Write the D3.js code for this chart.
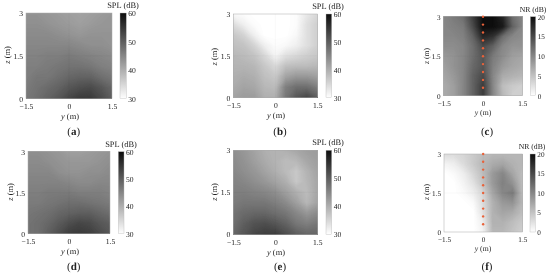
<!DOCTYPE html>
<html>
<head>
<meta charset="utf-8">
<style>
    html, body { margin: 0; padding: 0; background: #fff; }
    svg { display: block; }
    text { font-family: "Liberation Serif", serif; fill: #222; text-rendering: geometricPrecision; filter: grayscale(1); }
    .axis .domain { display: none; }
</style>
<script src="https://cdnjs.cloudflare.com/ajax/libs/d3/7.8.5/d3.min.js"></script>
</head>
<body>
<script>
    // axes
    var yTicks = [-1.5, 0, 1.5];
    var zTicks = [0, 1.5, 3];
    var splTicks = [30, 40, 50, 60];
    var nrTicks = [0, 5, 10, 15, 20];
    // measurement points drawn on panels c and f
    var pointZ = [0.3, 0.6, 0.9, 1.2, 1.5, 1.8, 2.1, 2.4, 2.7, 3];

    // rows run from z = 3 down to z = 0, columns from y = -1.5 to y = 1.5
    var gridA = [
        [43.5, 43.5, 43, 42.5, 42, 41.5, 42, 42.5, 43],
        [44, 44, 43.5, 43, 42.5, 42, 42.5, 43, 43],
        [44.5, 44.5, 44.5, 44, 43.5, 43, 43.5, 43.5, 43.5],
        [45, 45, 45, 45, 45, 44.5, 44, 44, 43.5],
        [45.5, 45.5, 46, 46, 46.5, 46, 45.5, 45, 44.5],
        [46, 46, 46.5, 47, 47.5, 47.5, 47, 46, 45.5],
        [46, 47, 47, 48, 49, 49.5, 49.5, 48, 47],
        [46.5, 47.5, 48.5, 49.5, 51, 52, 52.5, 51, 49],
        [47, 48, 49.5, 51, 53, 54.5, 54.5, 52.5, 50]
    ];
    var gridB = [
        [31, 30.5, 30, 30, 30, 30, 30.5, 33, 35],
        [34.5, 32, 30.5, 30, 30, 30, 30.5, 34, 36],
        [37, 35.5, 32, 30, 30, 30, 31, 34, 36],
        [38, 37.5, 35.5, 32, 30.5, 31, 32, 34, 36],
        [39, 38.5, 37.5, 35, 31.5, 34, 35, 36, 37],
        [39.5, 39.5, 39, 37, 35, 38, 38.5, 38.5, 39],
        [40, 40.5, 40, 38, 37, 41.5, 43, 43, 42],
        [40.5, 41.5, 41, 39, 38.5, 46, 48, 48, 46],
        [41.5, 42.5, 42.5, 40, 40, 47, 51, 53, 50]
    ];
    var gridC = [
        [10, 11, 12, 16, 20, 20, 18, 12, 10],
        [10, 10.5, 11, 15, 20, 20, 19, 13, 10],
        [10, 10, 10.5, 13, 18, 17, 12, 10, 9.5],
        [9.5, 9.5, 10, 12, 15, 13, 10, 9, 9],
        [8.5, 9, 10, 12, 14, 11, 9.5, 8, 7.5],
        [8, 9, 10, 12.5, 14, 10.5, 8.5, 7.5, 7],
        [7.5, 8.5, 10, 13, 15, 10, 7, 6.5, 6],
        [7, 8, 10, 13, 16, 10, 5.5, 4.5, 4],
        [7, 8, 10, 13, 16, 10, 6, 4, 4]
    ];
    var gridD = [
        [44, 44, 43.5, 43, 42, 42, 42.5, 43, 43.5],
        [44.5, 44.5, 44, 43.5, 43, 43, 43, 43.5, 44],
        [45, 45, 45, 44, 43.5, 43.5, 44, 44, 44.5],
        [45.5, 45.5, 45.5, 45.5, 45, 44.5, 44.5, 45, 45],
        [46, 46, 46.5, 46.5, 46.5, 46, 46, 46, 45.5],
        [46.5, 46.5, 47, 47.5, 48, 48, 47.5, 47, 46.5],
        [47, 47.5, 48, 49, 49.5, 50, 50, 49, 48],
        [47.5, 48, 49, 50.5, 52, 53, 52.5, 51, 50],
        [47.5, 48, 50, 52, 54, 54.5, 54, 52.5, 51]
    ];
    var gridE = [
        [44, 43, 41.5, 40, 39.5, 40, 41, 42, 42.5],
        [44.5, 43.5, 42, 40.5, 39.5, 38.5, 39, 41, 42],
        [45, 44, 43, 41.5, 40, 38.5, 37, 39.5, 41.5],
        [45.5, 45, 44, 43, 41.5, 40, 37, 39, 41],
        [46, 46, 45.5, 45, 44, 42, 40, 38.5, 41],
        [46.5, 47, 47, 47, 46, 44.5, 42, 39, 41.5],
        [47.5, 48.5, 49, 49, 48, 47, 45, 43, 44.5],
        [48, 50, 51.5, 52, 51, 49.5, 47, 46, 47],
        [49, 51, 53, 54, 54, 52, 50, 49, 49]
    ];
    var gridF = [
        [3, 3, 3.5, 4.5, 5.5, 6, 6, 6, 6],
        [1, 1.5, 3, 4.5, 6, 7, 7.5, 6.5, 6],
        [0, 0.5, 1.5, 3.5, 5.5, 8.5, 10, 7.5, 5.5],
        [0, 0, 1, 2.5, 5, 8.5, 10.5, 9, 5.5],
        [0, 0, 0.5, 1.5, 3.5, 7.5, 10, 11, 5.5],
        [0, 0, 0, 0.5, 3, 6.5, 8.5, 9, 6],
        [0, 0, 0, 0, 2.5, 6.5, 7.5, 7, 5.5],
        [0, 0, 0, 0, 1.5, 6.5, 6.5, 5.5, 4.5],
        [0, 0, 0, 0, 1, 6, 6, 5, 4]
    ];

    var panelGrids = { a: gridA, b: gridB, c: gridC, d: gridD, e: gridE, f: gridF };

    // x0,x1,y0,y1 plot box, b0,b1 colour bar, t legend title, yl/zl axis titles, cap caption
    var panelLayout = [
        { id: "a", x0: 26, x1: 112, y0: 13, y1: 98.7, b0: 120, b1: 126.3, tx: 123, ty: 6, ylx: 70, yly: 117, zlx: 8, zly: 55, capx: 73.7, capy: 131.7, fs: 7.6 },
        { id: "b", x0: 233.3, x1: 317.3, y0: 14, y1: 97.7, b0: 326, b1: 331.7, tx: 328, ty: 7, ylx: 276, yly: 116, zlx: 215, zly: 56.7, capx: 280, capy: 132, fs: 7.6 },
        { id: "c", x0: 443.7, x1: 522.3, y0: 16.7, y1: 95.7, b0: 530.3, b1: 535.7, tx: 533, ty: 10.5, ylx: 483, yly: 113, zlx: 426.7, zly: 56, capx: 487, capy: 132, fs: 7.2, nr: true, points: true },
        { id: "d", x0: 28, x1: 110, y0: 151.7, y1: 233.7, b0: 118.3, b1: 124, tx: 121, ty: 145, ylx: 70, yly: 251.7, zlx: 11, zly: 192, capx: 73.7, capy: 266.7, fs: 7.6 },
        { id: "e", x0: 233.3, x1: 317.3, y0: 150.3, y1: 234.3, b0: 326, b1: 331.7, tx: 328, ty: 143.5, ylx: 276, yly: 252.7, zlx: 215, zly: 192, capx: 280, capy: 267, fs: 7.6 },
        { id: "f", x0: 444, x1: 522.3, y0: 154, y1: 232, b0: 530, b1: 535.3, tx: 532, ty: 147, ylx: 483, yly: 249, zlx: 427, zly: 192, capx: 487, capy: 267, fs: 7.2, nr: true, points: true }
    ];

    var svg = d3.select("body").append("svg")
        .attr("width", 550)
        .attr("height", 275)
        .attr("viewBox", "0 0 550 275");

    svg.append("rect")
        .attr("width", 550)
        .attr("height", 275)
        .attr("fill", "#fff");

    var defs = svg.append("defs");

    panelLayout.forEach(drawPanel);

    function drawPanel(p) {
        var grid = panelGrids[p.id];
        var domain = p.nr ? [0, 20] : [30, 60];
        var legendTicks = p.nr ? nrTicks : splTicks;
        var color = d3.scaleLinear().domain(domain).range(["#ffffff", "#0d0d0d"]);

        var x = d3.scaleLinear().domain([-1.5, 1.5]).range([p.x0, p.x1]);
        var y = d3.scaleLinear().domain([0, 3]).range([p.y1, p.y0]);
        var bar = d3.scaleLinear().domain(domain).range([p.y1, p.y0]);

        // grid value i sits at i + 0.5 in contour coordinates
        var rows = grid.length, cols = grid[0].length;
        var gx = d3.scaleLinear().domain([0.5, cols - 0.5]).range([p.x0, p.x1]);
        var gy = d3.scaleLinear().domain([0.5, rows - 0.5]).range([p.y0, p.y1]);

        var g = svg.append("g").attr("class", "panel-" + p.id);

        var clipId = "clip-" + p.id;
        g.append("clipPath").attr("id", clipId)
            .append("rect")
            .attr("x", p.x0).attr("y", p.y0)
            .attr("width", p.x1 - p.x0).attr("height", p.y1 - p.y0);

        var step = (domain[1] - domain[0]) / 150;
        var contours = d3.contours()
            .size([cols, rows])
            .thresholds(d3.range(domain[0], domain[1] + step / 2, step))(d3.merge(grid));

        var path = d3.geoPath(d3.geoTransform({
            point: function(px, py) {
                this.stream.point(gx(px), gy(py));
            }
        }));

        g.append("g")
            .attr("clip-path", "url(#" + clipId + ")")
            .selectAll("path")
            .data(contours)
            .enter()
            .append("path")
            .attr("d", path)
            .attr("fill", function(d) { return color(d.value); });

        // faint centre lines
        g.append("line")
            .attr("x1", x(0)).attr("x2", x(0))
            .attr("y1", p.y0).attr("y2", p.y1)
            .attr("stroke", "#000").attr("stroke-opacity", 0.05).attr("stroke-width", 0.6);
        g.append("line")
            .attr("x1", p.x0).attr("x2", p.x1)
            .attr("y1", y(1.5)).attr("y2", y(1.5))
            .attr("stroke", "#000").attr("stroke-opacity", 0.05).attr("stroke-width", 0.6);

        g.append("rect")
            .attr("x", p.x0).attr("y", p.y0)
            .attr("width", p.x1 - p.x0).attr("height", p.y1 - p.y0)
            .attr("fill", "none")
            .attr("stroke", "#aaa")
            .attr("stroke-width", 0.5);

        if (p.points) {
            g.selectAll("circle")
                .data(pointZ)
                .enter()
                .append("circle")
                .attr("cx", x(0))
                .attr("cy", function(d) { return y(d); })
                .attr("r", 1.2)
                .attr("fill", "#e8623a");
        }

        // colour bar
        var gradId = "bar-" + p.id;
        defs.append("linearGradient")
            .attr("id", gradId)
            .attr("x1", 0).attr("y1", 1).attr("x2", 0).attr("y2", 0)
            .selectAll("stop")
            .data(domain)
            .enter()
            .append("stop")
            .attr("offset", function(d, i) { return i; })
            .attr("stop-color", function(d) { return color(d); });
        g.append("rect")
            .attr("x", p.b0).attr("y", p.y0)
            .attr("width", p.b1 - p.b0).attr("height", p.y1 - p.y0)
            .attr("fill", "url(#" + gradId + ")")
            .attr("stroke", "#bbb")
            .attr("stroke-width", 0.4);

        var minus = function(d) { return String(d).replace("-", "\u2212"); };

        var xAxis = g.append("g")
            .attr("class", "axis")
            .attr("transform", "translate(0," + p.y1 + ")")
            .call(d3.axisBottom(x).tickValues(yTicks).tickSize(0).tickPadding(5).tickFormat(minus));
        var zAxis = g.append("g")
            .attr("class", "axis")
            .attr("transform", "translate(" + p.x0 + ",0)")
            .call(d3.axisLeft(y).tickValues(zTicks).tickSize(0).tickPadding(3).tickFormat(minus));
        var barAxis = g.append("g")
            .attr("class", "axis")
            .attr("transform", "translate(" + p.b1 + ",0)")
            .call(d3.axisRight(bar).tickValues(legendTicks).tickSize(0).tickPadding(2).tickFormat(minus));

        [xAxis, zAxis, barAxis].forEach(function(a) {
            a.attr("font-family", null).attr("font-size", null);
            a.selectAll("text").attr("font-size", p.fs).attr("fill", "#222");
        });

        g.append("text")
            .attr("x", p.tx).attr("y", p.ty)
            .attr("text-anchor", "middle")
            .attr("dominant-baseline", "middle")
            .attr("font-size", p.nr ? 7.7 : 8.4)
            .text(p.nr ? "NR (dB)" : "SPL (dB)");

        var yLabel = g.append("text")
            .attr("x", p.ylx).attr("y", p.yly)
            .attr("text-anchor", "middle")
            .attr("dominant-baseline", "middle")
            .attr("font-size", p.nr ? 7.7 : 8.4);
        yLabel.append("tspan").attr("font-style", "italic").text("y");
        yLabel.append("tspan").text(" (m)");

        var zLabel = g.append("text")
            .attr("transform", "translate(" + p.zlx + "," + p.zly + ") rotate(-90)")
            .attr("text-anchor", "middle")
            .attr("dominant-baseline", "middle")
            .attr("font-size", p.nr ? 7.7 : 8.4);
        zLabel.append("tspan").attr("font-style", "italic").text("z");
        zLabel.append("tspan").text(" (m)");

        var caption = g.append("text")
            .attr("x", p.capx).attr("y", p.capy)
            .attr("text-anchor", "middle")
            .attr("dominant-baseline", "middle")
            .attr("font-size", 11);
        caption.append("tspan").text("(");
        caption.append("tspan").attr("font-weight", "bold").text(p.id);
        caption.append("tspan").text(")");
    }
</script>
</body>
</html>
